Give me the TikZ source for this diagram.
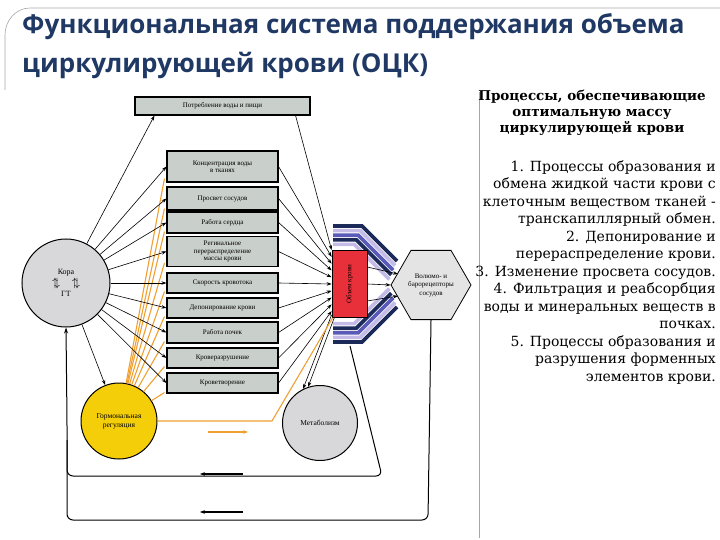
\documentclass[tikz,border=0pt]{standalone}
\usepackage{fontspec}
\setmainfont{Liberation Serif}
\newfontfamily\titlefont{Open Sans}
\newfontfamily\sidefont{DejaVu Serif}
\usetikzlibrary{shapes.geometric,arrows.meta,calc}
\definecolor{titleblue}{HTML}{1F3864}
\definecolor{boxgray}{HTML}{C9CFCB}
\definecolor{circgray}{HTML}{D8D8DA}
\definecolor{hormyellow}{HTML}{F5CE0A}
\definecolor{orangeln}{HTML}{F0A030}
\definecolor{redbox}{HTML}{E8303A}
\definecolor{navy}{HTML}{1C2A5A}
\definecolor{midblue}{HTML}{5A5AB8}
\definecolor{lav}{HTML}{C4BCE6}
\begin{document}
\begin{tikzpicture}[x=1pt,y=-1pt,
  procbox/.style={draw=black,line width=1.1pt,fill=boxgray,font=\fontsize{7}{7.5}\selectfont,align=center,inner sep=1pt},
  conn/.style={-{Stealth[length=5pt,width=3.5pt]},line width=0.6pt},
  org/.style={orangeln,line width=1.1pt},
  loopln/.style={line width=1pt,rounded corners=6pt}]
\useasboundingbox (0,0) rectangle (720,540);
% slide frame
\draw[gray!70,line width=0.6pt] (5,90) -- (5,35) to[out=90,in=180] (30,8) -- (720,8);
\draw[gray!70,line width=0.6pt] (479,92) -- (479,538);
% title
\node[anchor=west,font=\titlefont\bfseries\fontsize{26}{28}\selectfont,text=titleblue,inner sep=0] (t1) at (22,27) {Функциональная система поддержания объема};
\node[anchor=west,font=\titlefont\bfseries\fontsize{26}{28}\selectfont,text=titleblue,inner sep=0] (t2) at (22,65) {циркулирующей крови (ОЦК)};
% right text
\node[font=\sidefont\bfseries\fontsize{13.5}{16}\selectfont,align=center] (rh) at (592,113) {Процессы, обеспечивающие\\оптимальную массу\\циркулирующей крови};
\node[anchor=north east,font=\sidefont\fontsize{14}{17.5}\selectfont,align=right,inner sep=0] (rl) at (716,160) {1. Процессы образования и\\обмена жидкой части крови с\\клеточным веществом тканей -\\транскапиллярный обмен.\\2. Депонирование и\\перераспределение крови.\\3. Изменение просвета сосудов.\\4. Фильтрация и реабсорбция\\воды и минеральных веществ в\\почках.\\5. Процессы образования и\\разрушения форменных\\элементов крови.};
% boxes
\node[procbox,minimum width=175pt,minimum height=18pt] (top) at (222.5,106) {Потребление воды и пищи};
\node[procbox,minimum width=111pt,minimum height=31pt] (b1) at (222.5,166.5) {Концентрация воды\\в тканях};
\node[procbox,minimum width=111pt,minimum height=23pt] (b2) at (222.5,198.5) {Просвет сосудов};
\node[procbox,minimum width=111pt,minimum height=21pt] (b3) at (222.5,222.5) {Работа сердца};
\node[procbox,minimum width=111pt,minimum height=30pt] (b4) at (222.5,251.5) {Регинальное\\перераспределение\\массы крови};
\node[procbox,minimum width=111pt,minimum height=20pt] (b5) at (222.5,283) {Скорость кровотока};
\node[procbox,minimum width=111pt,minimum height=20pt] (b6) at (222.5,308) {Депонирование крови};
\node[procbox,minimum width=111pt,minimum height=21pt] (b7) at (222.5,332.5) {Работа почек};
\node[procbox,minimum width=111pt,minimum height=20pt] (b8) at (222.5,358) {Кроверазрушение};
\node[procbox,minimum width=111pt,minimum height=20pt] (b9) at (222.5,383) {Кроветворение};
% circles
\node[circle,draw,line width=1pt,fill=circgray,minimum size=88pt,font=\fontsize{8}{10}\selectfont,align=center] (kora) at (66,283) {Кора\\[1pt]{\large$\uparrow\!\!\downarrow$\quad$\uparrow\!\!\downarrow$}\\ГТ};
\node[circle,draw,line width=1pt,fill=hormyellow,minimum size=76pt,font=\fontsize{7.5}{9}\selectfont,align=center] (horm) at (119,421) {Гормональная\\регуляция};
\node[circle,draw,line width=1pt,fill=circgray,minimum size=75pt,font=\fontsize{7.5}{9}\selectfont] (meta) at (320,423) {Метаболизм};
% blue stripes
\foreach \i/\c in {0/navy,1/lav,2/midblue,3/navy,4/lav}{
  \draw[\c,line width=3.6pt] (333,{226+4.6*\i}) -- ({362-1.9*\i},{226+4.6*\i}) -- ({397-1.9*\i},{261+4.6*\i});
  \draw[\c,line width=3.6pt] (333,{342-4.6*\i}) -- ({362-1.9*\i},{342-4.6*\i}) -- ({397-1.9*\i},{307-4.6*\i});
}
% red box
\node[draw,line width=0.8pt,fill=redbox,minimum width=35pt,minimum height=67pt,inner sep=0] (red) at (349.5,284) {};
\node[rotate=90,font=\fontsize{7}{8}\selectfont] (redt) at (red) {Объем крови};
% hexagon
\node[regular polygon,regular polygon sides=6,minimum size=80pt,draw,line width=0.8pt,fill=circgray!70,font=\fontsize{7}{8.5}\selectfont,align=center,inner sep=0] (hex) at (431,285) {Волюмо- и\\барорецепторы\\сосудов};
% orange fan
\foreach \b/\dy in {b1/8,b2/6,b3/6,b4/8,b5/6,b6/6,b7/6,b8/6,b9/5}{
  \draw[org] (horm) -- ($(\b.south west)+(-2,{4-\dy})$);
}
% kora to boxes
\draw[conn] (kora) -- ($(top.south west)+(20,0)$);
\foreach \b in {b1,b2,b3,b4,b5,b6,b7,b8,b9}{ \draw[conn] (kora) -- (\b.west); }
\draw[conn] (kora) -- (horm);
% boxes to red
\draw[conn] ($(top.south east)+(-15,0)$) -- (red.north west);
\foreach \b/\t in {b1/0.1,b2/0.2,b3/0.3,b4/0.4,b5/0.5,b6/0.6,b7/0.7,b8/0.8,b9/0.9}{
  \draw[conn] (\b.east) -- ($(red.north west)!\t!(red.south west)$);
}
% red to hex
\draw[conn] ($(red.north east)!0.25!(red.south east)$) -- (398,274);
\draw[conn] (red.east) -- (hex.west);
\draw[conn] ($(red.north east)!0.75!(red.south east)$) -- (398,296);
% red to metabolism
\draw[conn] ($(red.south west)+(0,-3)$) -- ($(meta.north)+(-17,4)$);
\draw[conn] ($(red.south west)+(3,-1)$) -- ($(meta.north)+(-12,2)$);
% orange line horm -> red
\draw[org] (horm.east) -- (272,421) -- ($(red.south west)+(1,0)$);
% loops
\draw[loopln,-{Stealth[length=6pt,width=4pt]}] (hex.south) -- (428,520) -- (67,520) -- (67,420) -- (kora.south);
\draw[loopln] (350,346) -- (382,476) -- (67,476) -- (67,440);
% small arrows
\draw[line width=1.2pt,-{Stealth[length=5pt]}] (243,474) -- (200,474);
\draw[line width=1.2pt,-{Stealth[length=5pt]}] (243,512) -- (200,512);
\draw[orangeln,line width=1.5pt,-{Stealth[length=5pt]}] (208,432) -- (248,432);
\end{tikzpicture}
\end{document}
